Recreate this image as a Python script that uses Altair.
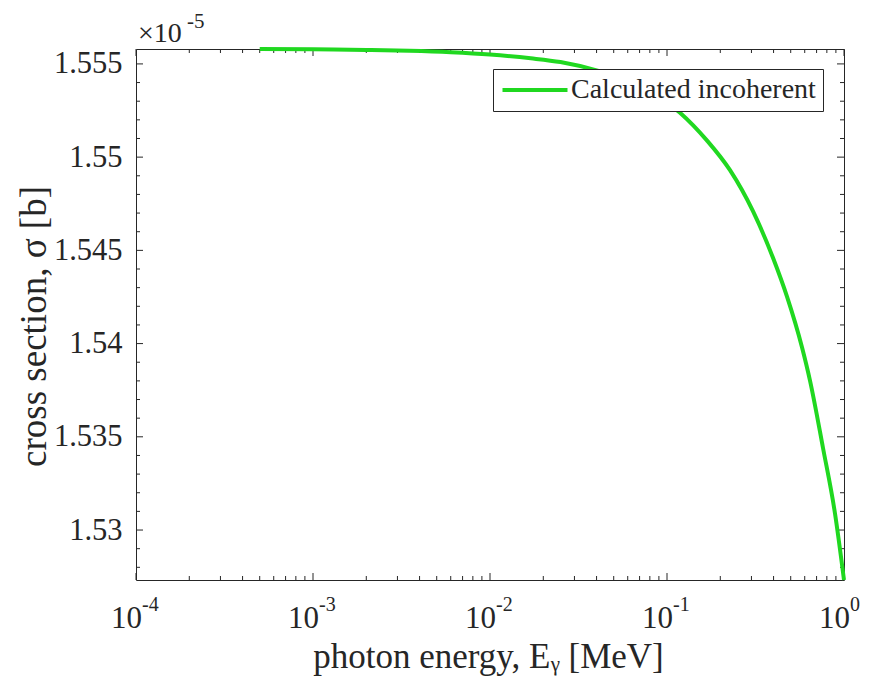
import altair as alt
import pandas as pd

# ---- data ----
energy = [5.0e-4, 1.0e-3, 2.0e-3, 3.5e-3, 6.0e-3, 1.0e-2, 1.7e-2, 2.5e-2, 4.2e-2,
          6.0e-2, 8.5e-2, 0.118, 0.168, 0.227, 0.306, 0.397, 0.477, 0.579, 0.643,
          0.761, 0.889, 1.0]
sigma = [1.5558, 1.55578, 1.55575, 1.5557, 1.55562, 1.5555, 1.5553, 1.5551, 1.5546,
         1.5541, 1.5534, 1.5524, 1.5509, 1.5493, 1.5471, 1.5446, 1.5425, 1.5398, 1.5380,
         1.5344, 1.5309, 1.52732]
series_name = "Calculated incoherent"

x_exponents = [-4, -3, -2, -1, 0]
x_major = [10.0 ** k for k in x_exponents]
x_minor = [m * 10.0 ** k for k in range(-4, 0) for m in range(2, 10)]
y_major = [1.53, 1.535, 1.54, 1.545, 1.55, 1.555]
y_minor = [round(1.528 + 0.001 * i, 3) for i in range(28)]
y_minor = [v for v in y_minor if all(abs(v - m) > 1e-9 for m in y_major)]
y_multiplier_exp = "-5"

W, H = 708, 531
FONT = "Liberation Serif"
TXT = "#262626"
GREEN = "#20d820"

df = pd.DataFrame({"E": energy, "sigma": sigma, "series": [series_name] * len(energy)})

xscale = alt.Scale(type="log", domain=[1e-4, 1.0], nice=False)
yscale = alt.Scale(domain=[1.52732, 1.5558], nice=False, zero=False)

xaxis = alt.Axis(
    values=x_major, labels=False, ticks=False, domain=False, grid=False,
    title="photon energy, Eᵧ [MeV]", titleFont=FONT, titleFontSize=35,
    titleFontWeight="normal", titleColor=TXT, titleBaseline="alphabetic",
    titleX=352, titleY=87)
yaxis = alt.Axis(
    values=y_major, format=".3~f", ticks=False, domain=False, grid=False,
    labelFont=FONT, labelFontSize=30.5, labelColor=TXT, labelPadding=14,
    labelFlush=False,
    title="cross section, σ [b]", titleFont=FONT, titleFontSize=37,
    titleFontWeight="normal", titleColor=TXT, titleBaseline="alphabetic",
    titleX=-91, titleY=277, titleAngle=270)


def X():
    return alt.X("E:Q", scale=xscale, axis=xaxis)


def Y():
    return alt.Y("sigma:Q", scale=yscale, axis=yaxis)


line = alt.Chart(df).mark_line(strokeWidth=4, interpolate="monotone").encode(
    x=X(), y=Y(),
    color=alt.Color("series:N", scale=alt.Scale(range=[GREEN]), legend=alt.Legend(
        title=None, orient="none", legendX=357, legendY=20,
        symbolType="M-1.77,0L8.23,0", symbolSize=169, symbolStrokeWidth=4,
        labelFont=FONT, labelFontSize=28, labelColor=TXT, labelOffset=43,
        labelLimit=0,
        strokeColor=TXT, fillColor="white", padding=7, cornerRadius=0)),
)


def xticks(vals, length, top):
    d = pd.DataFrame({"E": vals})
    y0 = 0 if top else H
    y1 = length if top else H - length
    return alt.Chart(d).mark_rule(color=TXT, strokeWidth=1).encode(
        x=X(), y=alt.value(y0), y2=alt.value(y1))


def yticks(vals, length, right):
    d = pd.DataFrame({"sigma": vals})
    x0 = W if right else 0
    x1 = W - length if right else length
    return alt.Chart(d).mark_rule(color=TXT, strokeWidth=1).encode(
        y=Y(), x=alt.value(x0), x2=alt.value(x1))


lab_df = pd.DataFrame({"E": x_major, "base": ["10"] * len(x_major),
                       "exp": [str(k) for k in x_exponents]})
x_lab_base = alt.Chart(lab_df).mark_text(
    font=FONT, fontSize=31, color=TXT, align="right", baseline="alphabetic", dx=6
).encode(x=X(), y=alt.value(H + 48), text="base:N")
x_lab_exp = alt.Chart(lab_df).mark_text(
    font=FONT, fontSize=20, color=TXT, align="left", baseline="alphabetic", dx=6
).encode(x=X(), y=alt.value(H + 31), text="exp:N")

mult_df = pd.DataFrame({"base": ["×10"], "exp": [y_multiplier_exp]})
mult_base = alt.Chart(mult_df).mark_text(
    font=FONT, fontSize=28, color=TXT, align="left", baseline="alphabetic"
).encode(text="base:N", x=alt.value(2), y=alt.value(-7))
mult_exp = alt.Chart(mult_df).mark_text(
    font=FONT, fontSize=21, color=TXT, align="left", baseline="alphabetic"
).encode(text="exp:N", x=alt.value(51), y=alt.value(-21))

chart = alt.layer(
    xticks(x_major, 7, False), xticks(x_major, 7, True),
    xticks(x_minor, 4, False), xticks(x_minor, 4, True),
    yticks(y_major, 7, False), yticks(y_major, 7, True),
    yticks(y_minor, 4, False), yticks(y_minor, 4, True),
    line, x_lab_base, x_lab_exp, mult_base, mult_exp,
).properties(
    width=W, height=H,
    autosize=alt.AutoSizeParams(type="none"),
    padding={"left": 136, "top": 49, "right": 871 - 136 - W, "bottom": 691 - 49 - H},
    background="white",
).configure_view(stroke=TXT, strokeWidth=1)

chart.save("out.html", embed_options={"renderer": "svg", "actions": False})
